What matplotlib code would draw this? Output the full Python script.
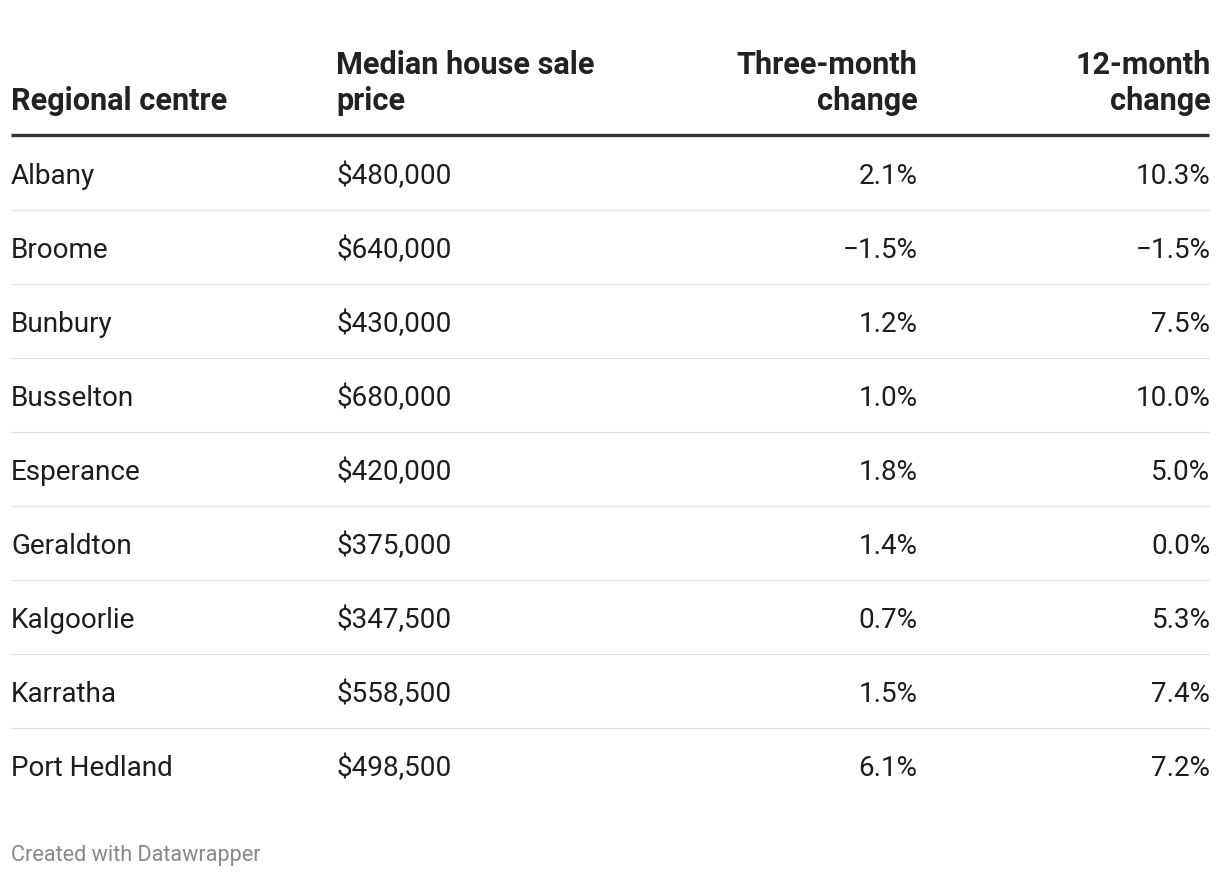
import matplotlib.pyplot as plt

plt.rcParams['font.family'] = ['Roboto', 'DejaVu Sans']

headers = [["Regional centre"], ["Median house sale", "price"],
           ["Three-month", "change"], ["12-month", "change"]]
centres = ["Albany", "Broome", "Bunbury", "Busselton", "Esperance",
           "Geraldton", "Kalgoorlie", "Karratha", "Port Hedland"]
prices = ["$480,000", "$640,000", "$430,000", "$680,000", "$420,000",
          "$375,000", "$347,500", "$558,500", "$498,500"]
three_month = ["2.1%", "\u22121.5%", "1.2%", "1.0%", "1.8%",
               "1.4%", "0.7%", "1.5%", "6.1%"]
twelve_month = ["10.3%", "\u22121.5%", "7.5%", "10.0%", "5.0%",
                "0.0%", "5.3%", "7.4%", "7.2%"]

W, H = 1220, 878
fig = plt.figure(figsize=(W / 100, H / 100), dpi=100)
ax = fig.add_axes([0, 0, 1, 1])
ax.set_xlim(0, W)
ax.set_ylim(H, 0)
ax.axis("off")

# column anchors (x, alignment)
cols = [(11, "left"), (336, "left"), (917.5, "right"), (1210.5, "right")]
fs = 20.1
txt = "#1d1d1d"

# header, bottom-aligned on baselines
for (x, ha), lines in zip(cols, headers):
    for i, line in enumerate(reversed(lines)):
        ax.text(x, 110 - i * 36, line, ha=ha, va="baseline", fontsize=22.1,
                fontweight="bold", color="#222222")

ax.plot([11, 1209], [136, 136], color="#333333", lw=2.4,
        solid_capstyle="butt")

row0, step = 174, 74
for r, row in enumerate(zip(centres, prices, three_month, twelve_month)):
    y = row0 + r * step
    for (x, ha), val in zip(cols, row):
        ax.text(x, y + 10, val, ha=ha, va="baseline", fontsize=fs, color=txt)
    if r < len(centres) - 1:
        ax.plot([11, 1209], [y + 37, y + 37], color="#e2e2e2", lw=0.9)

ax.text(11, 861, "Created with Datawrapper", ha="left", va="baseline",
        fontsize=15.6, color="#888888")

fig.savefig("out.png", dpi=100)
